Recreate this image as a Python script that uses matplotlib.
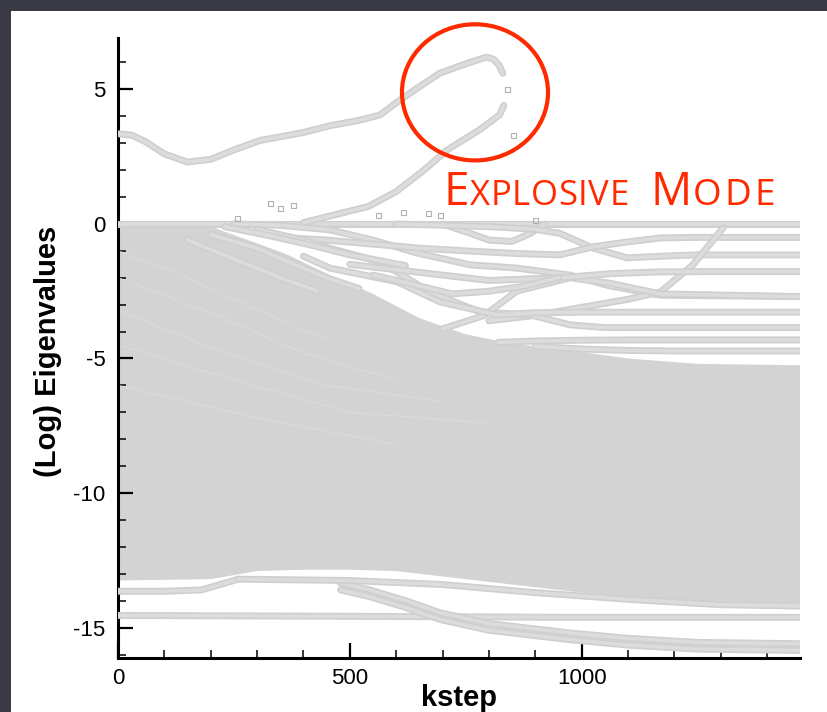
import matplotlib
matplotlib.use("Agg")
import matplotlib.pyplot as plt
import matplotlib.patheffects as pe
from matplotlib.patches import Ellipse, Rectangle
from matplotlib.ticker import MultipleLocator

plt.rcParams["axes.unicode_minus"] = False

# --- eigenvalue trajectories (kstep, log eigenvalue) ---
# explosive mode, upper branch
exp_up_x = [0, 30, 60, 100, 150, 200, 250, 306, 400, 457, 520, 565, 608, 650, 694, 750, 780, 795, 810, 822, 830]
exp_up_y = [3.35, 3.3, 3.05, 2.6, 2.3, 2.4, 2.75, 3.1, 3.4, 3.65, 3.85, 4.05, 4.6, 5.1, 5.6, 5.95, 6.12, 6.2, 6.12, 5.9, 5.6]
# explosive mode, lower branch
exp_lo_x = [400, 470, 540, 600, 660, 710, 780, 823, 832]
exp_lo_y = [0.05, 0.35, 0.65, 1.2, 2.0, 2.75, 3.5, 4.05, 4.4]

# envelope of the dense cloud of stable modes
dense_x = [0, 200, 280, 360, 457, 550, 650, 750, 850, 975, 1100, 1250, 1471]
dense_top = [0, -0.1, -0.6, -1.1, -1.9, -2.6, -3.5, -4.1, -4.45, -4.7, -5.0, -5.2, -5.25]
dense_bx = [0, 200, 300, 400, 500, 600, 700, 800, 900, 1000, 1100, 1200, 1300, 1471]
dense_bot = [-13.25, -13.2, -12.9, -12.85, -12.85, -12.9, -13.1, -13.3, -13.5, -13.7, -13.9, -14.0, -14.1, -14.2]

# individual modes between 0 and -5
modes = {
    "m0": ([0, 1471], [0, 0]),
    "m1": ([700, 760, 800, 850, 890, 920], [0, -0.35, -0.6, -0.65, -0.35, 0]),
    "m2": ([250, 350, 457, 550, 645, 760, 860, 975, 1060, 1170, 1471],
           [0, -0.05, -0.22, -0.6, -1.08, -1.52, -1.64, -1.9, -2.3, -2.65, -2.7]),
    "m3": ([600, 700, 800, 900, 953, 1025, 1098, 1170, 1250, 1471],
           [0, -0.05, -0.1, -0.2, -0.35, -0.9, -1.26, -1.2, -1.15, -1.15]),
    "m4": ([350, 450, 550, 650, 750, 860, 953, 1025, 1098, 1170, 1240, 1471],
           [-0.5, -0.6, -0.75, -0.9, -1.0, -1.1, -1.15, -0.85, -0.67, -0.52, -0.5, -0.5]),
    "m5": ([800, 900, 1000, 1100, 1170, 1240, 1305], [-3.6, -3.4, -3.1, -2.8, -2.53, -1.52, -0.15]),
    "m6": ([300, 400, 457, 565, 673, 781, 889, 975, 1050, 1150, 1471],
           [-0.2, -0.6, -0.9, -1.41, -2.53, -3.27, -3.38, -3.75, -3.85, -3.85, -3.85]),
    "m7": ([700, 790, 860, 975, 1060, 1170, 1471], [-3.9, -3.4, -2.5, -2.0, -2.2, -2.6, -2.7]),
    "m8": ([400, 457, 602, 695, 818, 900, 1000, 1100, 1471],
           [-1.2, -1.64, -2.15, -2.9, -3.38, -3.3, -3.28, -3.28, -3.28]),
    "m9": ([500, 600, 700, 800, 953, 1061, 1170, 1300, 1471],
           [-1.5, -1.7, -1.9, -2.1, -2.0, -1.85, -1.78, -1.77, -1.77]),
    "m10": ([820, 900, 1000, 1100, 1471], [-4.4, -4.35, -4.32, -4.31, -4.31]),
    "m11": ([900, 1000, 1100, 1200, 1471], [-4.55, -4.65, -4.7, -4.72, -4.72]),
    "m13": ([230, 330, 420, 500, 560, 620], [-0.1, -0.45, -0.8, -1.15, -1.35, -1.55]),
    "m14": ([200, 300, 380, 450, 520], [-0.4, -0.9, -1.5, -2.0, -2.4]),
    "m15": ([150, 250, 350, 430], [-0.6, -1.3, -2.0, -2.5]),
    "m16": ([550, 650, 720, 800, 880, 950], [-1.9, -2.3, -2.6, -2.5, -2.3, -2.0]),
}

# slow modes below the cloud
low_modes = {
    "l1": ([0, 100, 180, 220, 260], [-13.65, -13.65, -13.6, -13.4, -13.2]),
    "l2": ([0, 500, 1000, 1471], [-14.55, -14.58, -14.62, -14.62]),
    "l3": ([480, 543, 620, 695, 800, 975, 1100, 1250, 1471],
           [-13.35, -13.6, -14.0, -14.45, -14.85, -15.2, -15.4, -15.55, -15.6]),
    "l4": ([480, 543, 620, 695, 800, 975, 1100, 1250, 1471],
           [-13.6, -13.85, -14.25, -14.7, -15.1, -15.45, -15.65, -15.8, -15.85]),
    "l5": ([260, 500, 700, 900, 1100, 1300, 1471], [-13.2, -13.25, -13.4, -13.7, -13.95, -14.15, -14.2]),
}

# faint gaps inside the cloud
streaks = {
    "s1": ([0, 150, 300, 450], [-1.0, -2.0, -3.2, -4.3]),
    "s2": ([0, 200, 400, 600], [-2.0, -3.3, -4.8, -5.8]),
    "s3": ([0, 200, 450, 700], [-3.2, -4.6, -6.0, -6.6]),
    "s4": ([0, 250, 500, 800], [-4.5, -5.8, -7.0, -7.4]),
    "s5": ([0, 300, 600], [-6.0, -7.2, -8.2]),
}

# isolated samples
stray_x = [256, 328, 350, 378, 560, 615, 669, 695, 900, 840, 851]
stray_y = [0.22, 0.78, 0.6, 0.7, 0.33, 0.45, 0.4, 0.33, 0.15, 5.0, 3.3]

GREY = "#d3d3d3"
RED = "#ff2a00"

fig = plt.figure(figsize=(8.28, 7.12), dpi=100, facecolor="#3a3a44")
fig.patches.append(Rectangle((11 / 828, 0), 1, (712 - 11) / 712, transform=fig.transFigure,
                             facecolor="white", edgecolor="none", zorder=-5))

ax = fig.add_axes([118 / 828, 54 / 712, (800 - 118) / 828, (658 - 38) / 712])
ax.set_facecolor("none")

band_fx = [pe.Stroke(linewidth=5.0, foreground="#cfcfcf", capstyle="round", joinstyle="round"),
           pe.Normal()]


def band(x, y):
    ax.plot(x, y, color="#dcdcdc", lw=2.6, solid_joinstyle="round", solid_capstyle="round",
            path_effects=band_fx, zorder=3)


# dense cloud: polygon between top and bottom envelopes
ax.fill(dense_x + dense_bx[::-1], dense_top + dense_bot[::-1], color=GREY, lw=0, zorder=1)
for x, y in streaks.values():
    ax.plot(x, y, color="#dbdbdb", lw=0.8, zorder=2)

for x, y in modes.values():
    band(x, y)
for x, y in low_modes.values():
    band(x, y)
band(exp_up_x, exp_up_y)
band(exp_lo_x, exp_lo_y)

ax.plot(stray_x, stray_y, ls="none", marker="s", ms=3.6, mfc="none", mec="#b0b0b0", mew=0.8, zorder=4)

# explosive mode marker
ax.add_patch(Ellipse((770, 4.89), 315, 5.06, fill=False, ec=RED, lw=3, clip_on=False, zorder=6))

ax.set_xlim(0, 1471)
ax.set_ylim(-16.13, 6.91)
ax.set_xticks([0, 500, 1000])
ax.set_yticks([-15, -10, -5, 0, 5])
ax.xaxis.set_minor_locator(MultipleLocator(100))
ax.yaxis.set_minor_locator(MultipleLocator(1))
ax.tick_params(which="major", direction="in", length=11, width=1.6, labelsize=16)
ax.tick_params(which="minor", direction="in", length=6, width=1.1)
ax.tick_params(axis="y", which="major", pad=9)
ax.tick_params(axis="x", which="major", pad=7)
for lab in ax.get_xticklabels() + ax.get_yticklabels():
    lab.set_family("Liberation Sans")
for s in ("top", "right"):
    ax.spines[s].set_visible(False)
for s in ("left", "bottom"):
    ax.spines[s].set_linewidth(2.2)

ax.set_ylabel("(Log) Eigenvalues", fontsize=21, fontweight="bold", family="Liberation Sans")
ax.yaxis.set_label_coords(-0.082, 0.495)
ax.set_xlabel("kstep", fontsize=21, fontweight="bold", family="Liberation Sans", va="top")
ax.xaxis.set_label_coords(0.5, -0.042)

# small-caps caption, letter by letter so the spacing can be opened up
pieces = [("E", 33, 1), ("XPLOSIVE", 25, 0.6), (" ", 25, 12), ("M", 33, 1), ("O", 26.5, 3),
          ("D", 26.5, 3), ("E", 26.5, 0)]
fig.canvas.draw()
r = fig.canvas.get_renderer()
xpix = 443
for txt, size, gap in pieces:
    for ch in txt:
        t = fig.text(xpix / 828, (712 - 205) / 712, ch, fontsize=size, color=RED,
                     family="Open Sans", va="baseline", ha="left")
        xpix = t.get_window_extent(r).x1 + gap

fig.savefig("out.png", dpi=100, facecolor=fig.get_facecolor())
